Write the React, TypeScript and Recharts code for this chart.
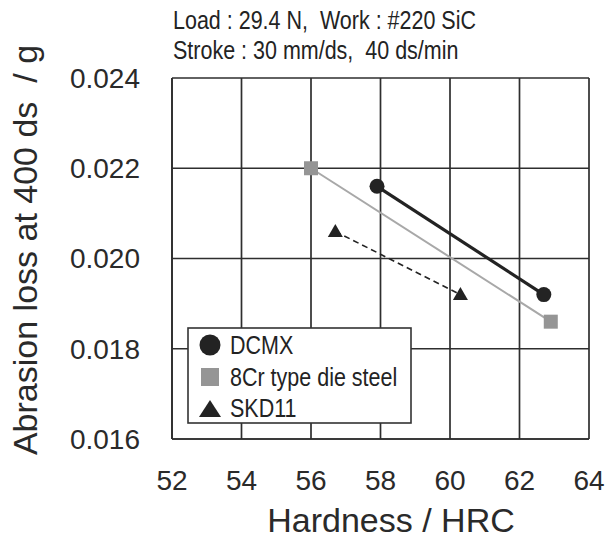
import React from 'react';
import { ScatterChart, Scatter, XAxis, YAxis, CartesianGrid, Legend, Label } from 'recharts';

const hardnessTicks = [52, 54, 56, 58, 60, 62, 64];
const lossTicks = [0.016, 0.018, 0.02, 0.022, 0.024];

const dcmxHardness = [57.9, 62.7];
const dcmxLoss = [0.0216, 0.0192];
const cr8Hardness = [56.0, 62.9];
const cr8Loss = [0.022, 0.0186];
const skdHardness = [56.7, 60.3];
const skdLoss = [0.0206, 0.0192];

const seriesNames = ['DCMX', '8Cr type die steel', 'SKD11'];
const titleLines = ['Load : 29.4 N,  Work : #220 SiC', 'Stroke : 30 mm/ds,  40 ds/min'];

const toPoints = (xs: number[], ys: number[]) => xs.map((x, i) => ({ x, y: ys[i] }));
const dcmxData = toPoints(dcmxHardness, dcmxLoss);
const cr8Data = toPoints(cr8Hardness, cr8Loss);
const skdData = toPoints(skdHardness, skdLoss);

const DARK = '#232323';
const GRAY = '#959595';
const FONT = '"Liberation Sans", Arial, Helvetica, sans-serif';

const CondText = ({ x, y, children, size = 21.5 }: any) => (
  <text
    transform={`translate(${x},${y}) scale(1,1.2)`}
    fontSize={size}
    fontFamily={FONT}
    fill={DARK}
    style={{ whiteSpace: 'pre' }}
  >
    {children}
  </text>
);

const CircleShape = (props: any) => {
  const { cx, cy } = props;
  if (cx == null || cy == null) return null;
  return <circle cx={cx} cy={cy} r={7.5} fill={DARK} />;
};
const SquareShape = (props: any) => {
  const { cx, cy } = props;
  if (cx == null || cy == null) return null;
  return <rect x={cx - 7} y={cy - 7} width={14} height={14} fill={GRAY} />;
};
const TriangleShape = (props: any) => {
  const { cx, cy } = props;
  if (cx == null || cy == null) return null;
  return <polygon points={`${cx},${cy - 7.5} ${cx + 7.5},${cy + 5.5} ${cx - 7.5},${cy + 5.5}`} fill={DARK} />;
};

const LegendBox = () => (
  <svg width={226} height={98} style={{ display: 'block' }}>
    <rect x={1} y={1} width={223} height={95} fill="#fff" stroke="#333" strokeWidth={1.6} />
    <circle cx={23} cy={18} r={10.5} fill={DARK} />
    <rect x={14} y={41} width={18} height={18} fill={GRAY} />
    <polygon points="23,73 34,90 12,90" fill={DARK} />
    <CondText x={43} y={27}>{seriesNames[0]}</CondText>
    <CondText x={43} y={59}>{seriesNames[1]}</CondText>
    <CondText x={43} y={90}>{seriesNames[2]}</CondText>
  </svg>
);

export default function App() {
  return (
    <div style={{ position: 'absolute', left: 0, top: 0, width: 607, height: 538, background: '#fff' }}>
      <ScatterChart width={607} height={538} margin={{ top: 78, right: 18, bottom: 0, left: 0 }}>
        <CartesianGrid stroke="#2e2e2e" strokeWidth={1.7} />
        <XAxis
          type="number"
          dataKey="x"
          domain={[52, 64]}
          ticks={hardnessTicks}
          interval={0}
          height={99}
          axisLine={{ stroke: '#2e2e2e', strokeWidth: 1.7 }}
          tickLine={false}
          tickSize={0}
          tickMargin={31}
          tick={{ fontSize: 28, fill: '#2a2a2a', fontFamily: FONT }}
        >
          <Label
            content={() => (
              <text x={391} y={532} textAnchor="middle" fontSize={34} fontFamily={FONT} fill="#2a2a2a">
                Hardness / HRC
              </text>
            )}
          />
        </XAxis>
        <YAxis
          type="number"
          dataKey="y"
          domain={[0.016, 0.024]}
          ticks={lossTicks}
          interval={0}
          width={172}
          axisLine={{ stroke: '#2e2e2e', strokeWidth: 1.7 }}
          tickLine={false}
          tickSize={0}
          tickMargin={32}
          tickFormatter={(v: number) => v.toFixed(3)}
          tick={{ fontSize: 28, fill: '#2a2a2a', fontFamily: FONT }}
        >
          <Label
            content={() => (
              <g>
                <text
                  transform="translate(37,250) rotate(-90)"
                  textAnchor="middle"
                  fontSize={34}
                  fontFamily={FONT}
                  fill="#2a2a2a"
                  style={{ whiteSpace: 'pre' }}
                >
                  Abrasion loss at 400 ds  / g
                </text>
                <CondText x={173} y={29}>{titleLines[0]}</CondText>
                <CondText x={173} y={59}>{titleLines[1]}</CondText>
              </g>
            )}
          />
        </YAxis>
        <Legend
          layout="vertical"
          align="center"
          verticalAlign="middle"
          wrapperStyle={{ position: 'absolute', left: 187, top: 327, width: 226, height: 98 }}
          content={() => <LegendBox />}
        />
        <Scatter
          name={seriesNames[1]}
          data={cr8Data}
          line={{ stroke: '#a8a8a8', strokeWidth: 2 }}
          shape={SquareShape}
          isAnimationActive={false}
        />
        <Scatter
          name={seriesNames[0]}
          data={dcmxData}
          line={{ stroke: DARK, strokeWidth: 3.2 }}
          shape={CircleShape}
          isAnimationActive={false}
        />
        <Scatter
          name={seriesNames[2]}
          data={skdData}
          line={{ stroke: DARK, strokeWidth: 1.6, strokeDasharray: '6 4' }}
          shape={TriangleShape}
          isAnimationActive={false}
        />
      </ScatterChart>
    </div>
  );
}
